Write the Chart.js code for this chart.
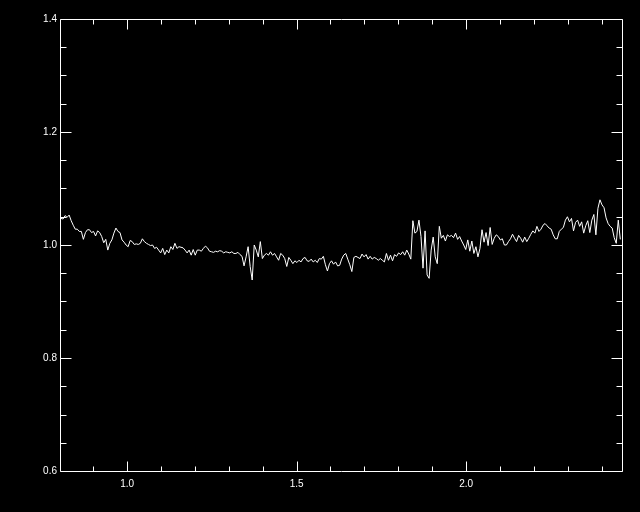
<!DOCTYPE html>
<html>
<head>
<meta charset="utf-8">
<title>Spectrum ratio</title>
<script src="https://cdn.jsdelivr.net/npm/chart.js@4.4.1/dist/chart.umd.min.js"></script>
<style>
  html, body { margin: 0; padding: 0; background: #000; }
  canvas { display: block; }
</style>
</head>
<body>
<canvas id="plot" width="640" height="512"></canvas>
<script>
// wavelength grid (micron)
const wavelength = [
  0.805,0.811,0.817,0.823,0.829,0.835,0.841,0.847,0.853,0.859,
  0.865,0.871,0.877,0.883,0.889,0.895,0.901,0.907,0.913,0.919,
  0.925,0.931,0.937,0.943,0.949,0.955,0.961,0.967,0.973,0.979,
  0.985,0.991,0.997,1.003,1.009,1.015,1.021,1.027,1.033,1.039,
  1.045,1.051,1.057,1.063,1.069,1.075,1.081,1.087,1.093,1.099,
  1.105,1.111,1.117,1.123,1.129,1.135,1.141,1.147,1.153,1.159,
  1.165,1.171,1.177,1.183,1.189,1.195,1.201,1.207,1.213,1.219,
  1.225,1.231,1.237,1.243,1.249,1.255,1.261,1.267,1.273,1.279,
  1.285,1.291,1.297,1.303,1.309,1.315,1.321,1.327,1.333,1.339,
  1.345,1.351,1.357,1.363,1.369,1.375,1.381,1.387,1.393,1.399,
  1.405,1.411,1.417,1.423,1.429,1.435,1.441,1.447,1.453,1.459,
  1.465,1.471,1.477,1.483,1.489,1.495,1.501,1.507,1.513,1.519,
  1.525,1.531,1.537,1.543,1.549,1.555,1.561,1.567,1.573,1.579,
  1.585,1.591,1.597,1.603,1.609,1.615,1.621,1.627,1.633,1.639,
  1.645,1.651,1.657,1.663,1.669,1.675,1.681,1.687,1.693,1.699,
  1.705,1.711,1.717,1.723,1.729,1.735,1.741,1.747,1.753,1.759,
  1.765,1.771,1.777,1.783,1.789,1.795,1.801,1.807,1.813,1.819,
  1.825,1.831,1.837,1.843,1.849,1.855,1.861,1.867,1.873,1.879,
  1.885,1.891,1.897,1.903,1.909,1.915,1.921,1.927,1.933,1.939,
  1.945,1.951,1.957,1.963,1.969,1.975,1.981,1.987,1.993,1.999,
  2.005,2.011,2.017,2.023,2.029,2.035,2.041,2.047,2.053,2.059,
  2.065,2.071,2.077,2.083,2.089,2.095,2.101,2.107,2.113,2.119,
  2.125,2.131,2.137,2.143,2.149,2.155,2.161,2.167,2.173,2.179,
  2.185,2.191,2.197,2.203,2.209,2.215,2.221,2.227,2.233,2.239,
  2.245,2.251,2.257,2.263,2.269,2.275,2.281,2.287,2.293,2.299,
  2.305,2.311,2.317,2.323,2.329,2.335,2.341,2.347,2.353,2.359,
  2.365,2.371,2.377,2.383,2.389,2.395,2.401,2.407,2.413,2.419,
  2.425,2.431,2.437,2.443,2.449,2.455
];

// ratio, one value per wavelength
const ratio = [
  1.047,1.046,1.052,1.049,1.053,1.043,1.035,1.028,1.028,1.024,
  1.024,1.010,1.022,1.027,1.027,1.022,1.024,1.016,1.025,1.022,
  1.015,1.004,1.010,0.991,1.003,1.009,1.021,1.030,1.024,1.022,
  1.009,1.005,1.000,0.997,1.008,1.006,1.001,1.002,1.001,1.003,
  1.011,1.006,1.003,1.001,0.999,1.000,0.994,0.996,0.991,0.986,
  0.994,0.983,0.991,0.986,0.997,0.992,1.003,0.994,0.997,0.996,
  0.995,0.991,0.986,0.991,0.982,0.992,0.982,0.991,0.991,0.989,
  0.994,0.998,0.995,0.989,0.988,0.987,0.989,0.988,0.990,0.989,
  0.986,0.988,0.987,0.986,0.988,0.985,0.985,0.987,0.983,0.980,
  0.963,0.979,
  0.997,0.962,0.938,1.000,0.991,0.979,1.006,0.976,0.982,0.985,
  0.982,0.988,0.982,0.985,0.979,0.973,0.985,0.982,0.976,0.962,
  0.978,0.973,0.967,0.972,0.969,0.973,0.970,0.976,0.978,0.972,
  0.971,0.975,0.970,0.973,0.969,0.976,0.975,0.980,0.965,0.954,
  0.967,0.972,0.966,0.970,0.963,0.964,0.975,0.982,0.985,0.975,
  0.965,0.953,0.978,0.980,0.978,0.976,0.984,0.979,0.983,0.975,
  0.980,0.975,0.978,0.976,0.973,0.976,0.973,0.970,0.985,0.973,
  0.982,0.972,0.983,0.980,0.986,0.983,0.988,0.982,0.991,0.984,
  0.975,1.043,1.021,1.024,1.044,1.015,0.959,1.025,0.947,0.941,
  0.991,1.014,
  0.979,0.967,1.033,1.012,1.017,1.007,1.018,1.015,1.017,1.013,
  1.021,1.010,1.015,1.007,1.000,0.992,1.009,0.989,1.007,0.985,
  0.997,0.979,0.994,1.027,1.005,1.022,0.999,1.031,1.001,1.012,
  1.018,1.015,1.009,1.011,1.000,1.000,1.006,1.011,1.019,1.012,
  1.006,1.017,1.012,1.005,1.014,1.006,1.012,1.019,1.025,1.021,
  1.033,1.024,1.028,1.035,1.038,1.034,1.030,1.028,1.018,1.011,
  1.011,1.024,1.028,1.031,1.044,1.050,1.041,1.047,1.025,1.040,
  1.044,1.033,1.041,1.021,1.034,1.043,1.022,1.044,1.054,1.018,
  1.065,1.080,1.071,1.066,1.048,1.038,1.033,1.030,1.013,1.003,
  1.044,1.010
];

// tick positions
const xMajor = [1.0, 1.5, 2.0];
const xMinor = [0.9, 1.1, 1.2, 1.3, 1.4, 1.6, 1.7, 1.8, 1.9, 2.1, 2.2, 2.3, 2.4];
const yMajor = [0.6, 0.8, 1.0, 1.2, 1.4];
const yMinor = [0.65, 0.7, 0.75, 0.85, 0.9, 0.95, 1.05, 1.1, 1.15, 1.25, 1.3, 1.35];

// black page, box frame with inward ticks on all four sides
const frame = {
  id: 'frame',
  beforeDraw(chart) {
    const c = chart.ctx;
    c.save();
    c.fillStyle = '#000';
    c.fillRect(0, 0, chart.width, chart.height);
    c.restore();
  },
  afterDraw(chart) {
    const { ctx, chartArea: a, scales: { x, y } } = chart;
    const L = a.left + 0.5, R = a.right + 0.5, T = a.top + 0.5, B = a.bottom + 0.5;
    ctx.save();
    ctx.strokeStyle = '#fff';
    ctx.lineWidth = 1;
    ctx.beginPath();
    ctx.rect(L, T, R - L, B - T);
    const xt = (v, len) => {
      const px = Math.round(x.getPixelForValue(v)) + 0.5;
      ctx.moveTo(px, B); ctx.lineTo(px, B - len);
      ctx.moveTo(px, T); ctx.lineTo(px, T + len);
    };
    const yt = (v, len) => {
      const py = Math.round(y.getPixelForValue(v)) + 0.5;
      ctx.moveTo(L, py); ctx.lineTo(L + len, py);
      ctx.moveTo(R, py); ctx.lineTo(R - len, py);
    };
    xMajor.forEach(v => xt(v, 10));
    xMinor.forEach(v => xt(v, 5));
    yMajor.forEach(v => yt(v, 11));
    yMinor.forEach(v => yt(v, 6));
    ctx.stroke();
    ctx.restore();
  }
};

const tickFont = { family: 'Liberation Sans', size: 10 };

new Chart(document.getElementById('plot'), {
  type: 'line',
  data: {
    labels: wavelength,
    datasets: [{
      data: ratio,
      borderColor: '#fff',
      borderWidth: 1,
      pointRadius: 0,
      tension: 0,
      fill: false
    }]
  },
  options: {
    responsive: false,
    animation: false,
    devicePixelRatio: 1,
    layout: { padding: { top: 19, right: 18, left: 0, bottom: 0 } },
    plugins: { legend: { display: false }, tooltip: { enabled: false } },
    scales: {
      x: {
        type: 'linear',
        min: 0.802,
        max: 2.46,
        afterBuildTicks: s => { s.ticks = xMajor.map(v => ({ value: v })); },
        afterFit: s => { s.height = 41; },
        grid: { display: false, drawTicks: false },
        border: { display: false },
        ticks: {
          color: '#fff', font: tickFont, padding: 7,
          maxRotation: 0, autoSkip: false,
          callback: v => Number(v).toFixed(1)
        }
      },
      y: {
        type: 'linear',
        min: 0.6,
        max: 1.4,
        afterBuildTicks: s => { s.ticks = yMajor.map(v => ({ value: v })); },
        afterFit: s => { s.width = 60; },
        grid: { display: false, drawTicks: false },
        border: { display: false },
        ticks: {
          color: '#fff', font: tickFont, padding: 3,
          autoSkip: false,
          callback: v => Number(v).toFixed(1)
        }
      }
    }
  },
  plugins: [frame]
});
</script>
</body>
</html>
